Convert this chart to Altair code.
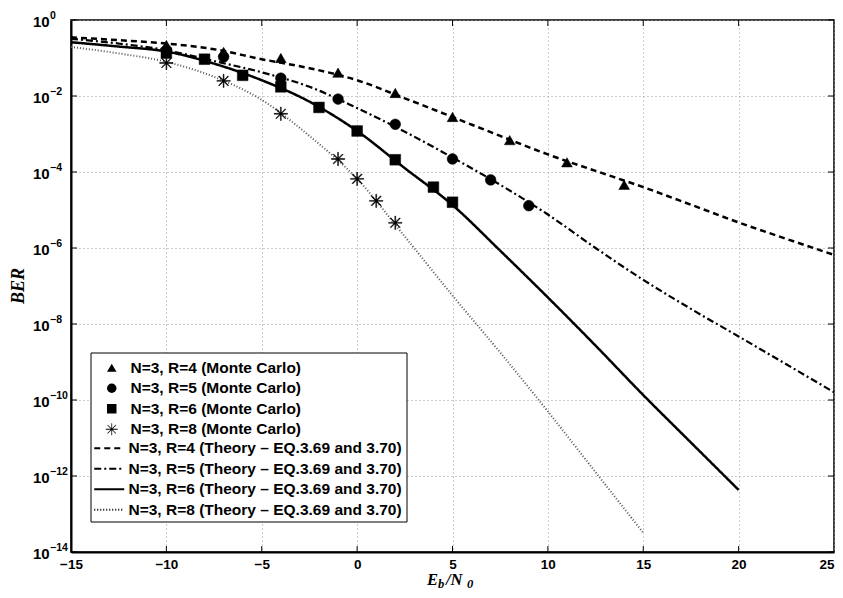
import math
import altair as alt
import pandas as pd

# ---------------- data ----------------
EBN0_TH = [-15, -12.5, -10, -7.5, -5, -2.5, 0, 2.5, 5, 7.5, 10, 12.5, 15, 17.5, 20, 22.5, 25]
BER_TH_R4 = [3.5e-1, 2.95e-1, 2.4e-1, 1.7e-1, 9.3e-2, 5.4e-2, 2.6e-2, 8.7e-3, 2.8e-3, 8.9e-4,
             2.9e-4, 1.07e-4, 4.0e-5, 1.38e-5, 4.7e-6, 1.74e-6, 6.6e-7]
BER_TH_R5 = [3.2e-1, 2.4e-1, 1.6e-1, 8.3e-2, 4.2e-2, 1.75e-2, 4.8e-3, 1.15e-3, 2.4e-4, 4.6e-5,
             7.6e-6, 1.0e-6, 1.45e-7, 2.5e-8, 4.7e-9, 8.7e-10, 1.6e-10]
EBN0_TH_R6 = [-15, -12.5, -10, -7.5, -5, -2.5, 0, 2.5, 5, 7.5, 10, 12.5, 15, 17.5, 20]
BER_TH_R6 = [2.6e-1, 2.0e-1, 1.48e-1, 7.1e-2, 2.6e-2, 7.1e-3, 1.2e-3, 1.26e-4, 1.35e-5, 8.5e-7,
             5.0e-8, 2.7e-9, 1.35e-10, 7.6e-12, 4.3e-13]
EBN0_TH_R8 = [-15, -12.5, -10, -7.5, -5, -2.5, 0, 2.5, 5, 7.5, 10, 12.5, 15]
BER_TH_R8 = [1.95e-1, 1.32e-1, 7.9e-2, 3.2e-2, 7.9e-3, 8.9e-4, 6.6e-5, 2.0e-6, 5.6e-8, 1.78e-9,
             5.0e-11, 1.26e-12, 3.2e-14]

EBN0_MC_R4 = [-10, -7, -4, -1, 2, 5, 8, 11, 14]
BER_MC_R4 = [2.2e-1, 1.45e-1, 1.0e-1, 4.1e-2, 1.2e-2, 2.8e-3, 6.9e-4, 1.8e-4, 4.6e-5]
EBN0_MC_R5 = [-10, -7, -4, -1, 2, 5, 7, 9]
BER_MC_R5 = [1.6e-1, 1.07e-1, 2.95e-2, 8.3e-3, 1.8e-3, 2.2e-4, 6.2e-5, 1.3e-5]
EBN0_MC_R6 = [-10, -8, -6, -4, -2, 0, 2, 4, 5]
BER_MC_R6 = [1.35e-1, 9.3e-2, 3.5e-2, 1.74e-2, 5.0e-3, 1.2e-3, 2.1e-4, 4.0e-5, 1.6e-5]
EBN0_MC_R8 = [-10, -7, -4, -1, 0, 1, 2]
BER_MC_R8 = [7.4e-2, 2.5e-2, 3.4e-3, 2.2e-4, 6.6e-5, 1.74e-5, 4.6e-6]

MC_LABELS = ["N=3, R=4 (Monte Carlo)", "N=3, R=5 (Monte Carlo)",
             "N=3, R=6 (Monte Carlo)", "N=3, R=8 (Monte Carlo)"]
TH_LABELS = ["N=3, R=4 (Theory \u2013 EQ.3.69 and 3.70)", "N=3, R=5 (Theory \u2013 EQ.3.69 and 3.70)",
             "N=3, R=6 (Theory \u2013 EQ.3.69 and 3.70)", "N=3, R=8 (Theory \u2013 EQ.3.69 and 3.70)"]

X_TICKS = [-15, -10, -5, 0, 5, 10, 15, 20, 25]
X_INNER_TICKS = [-10, -5, 0, 5, 10, 15, 20]
Y_TICKS = [1e0, 1e-2, 1e-4, 1e-6, 1e-8, 1e-10, 1e-12, 1e-14]
Y_EXPS = ["0", "\u22122", "\u22124", "\u22126", "\u22128", "\u221210", "\u221212", "\u221214"]

# ---------------- tables ----------------
th_sets = [(EBN0_TH, BER_TH_R4), (EBN0_TH, BER_TH_R5), (EBN0_TH_R6, BER_TH_R6), (EBN0_TH_R8, BER_TH_R8)]
mc_sets = [(EBN0_MC_R4, BER_MC_R4), (EBN0_MC_R5, BER_MC_R5), (EBN0_MC_R6, BER_MC_R6), (EBN0_MC_R8, BER_MC_R8)]

df_th = pd.DataFrame([{"ebn0": x, "ber": b, "series": lab}
                      for lab, (xs, bs) in zip(TH_LABELS, th_sets) for x, b in zip(xs, bs)])
df_mc = pd.DataFrame([{"ebn0": x, "ber": b, "series": lab}
                      for lab, (xs, bs) in zip(MC_LABELS, mc_sets) for x, b in zip(xs, bs)])
df_xt = pd.DataFrame({"ebn0": X_INNER_TICKS})
df_yt = pd.DataFrame({"ber": Y_TICKS, "exp": Y_EXPS})

W, H = 763, 532
SANS = "Liberation Sans"
SERIF = "Liberation Serif"
GRID = "#9a9a9a"


def asterisk_path(r=1.25, w=0.08):
    """Filled 8-armed asterisk symbol (unit size) as an SVG path."""
    parts = []
    for deg in (0, 45, 90, 135):
        t = math.radians(deg)
        dx, dy = math.cos(t) * r, math.sin(t) * r
        nx, ny = -math.sin(t) * w, math.cos(t) * w
        pts = [(dx + nx, dy + ny), (dx - nx, dy - ny), (-dx - nx, -dy - ny), (-dx + nx, -dy + ny)]
        parts.append("M" + "L".join(f"{px:.3f},{py:.3f}" for px, py in pts) + "Z")
    return "".join(parts)


X = alt.X("ebn0:Q", scale=alt.Scale(domain=[-15, 25], nice=False, zero=False),
          axis=alt.Axis(values=X_TICKS, title=None, grid=True, ticks=False,
                        labelFont=SANS, labelFontWeight="bold", labelFontSize=13.5,
                        labelColor="black", labelPadding=5, labelOverlap=False,
                        labelAlign={"condition": {"test": "datum.value == 25", "value": "right"},
                                    "value": "center"},
                        domainColor="black", domainWidth=2,
                        gridColor=GRID, gridDash=[1, 3], gridWidth=1))
Y = alt.Y("ber:Q", scale=alt.Scale(type="log", domain=[1e-14, 1], nice=False),
          axis=alt.Axis(values=Y_TICKS, title=None, grid=True, ticks=False, labels=False,
                        domainColor="black", domainWidth=2,
                        gridColor=GRID, gridDash=[1, 3], gridWidth=1))

dash_scale = alt.Scale(domain=TH_LABELS, range=[[6, 4], [7, 3, 2, 3], [1, 0], [1, 2]])
shape_scale = alt.Scale(domain=MC_LABELS, range=["triangle-up", "circle", "square", asterisk_path()])

leg_common = dict(orient="none", title=None, padding=0, labelFont=SANS, labelFontWeight="bold",
                  labelFontSize=15.5, labelColor="black", labelLimit=500, rowPadding=3.5)
leg_mc = alt.Legend(legendX=22, legendY=340, symbolOffset=11, labelOffset=11,
                    symbolSize=90, symbolFillColor="black", symbolStrokeColor="black",
                    symbolStrokeWidth=0.5, **leg_common)
leg_th = alt.Legend(legendX=22, legendY=420.5, symbolOffset=8.5, labelOffset=11.5,
                    symbolType="M-3,0L3,0", symbolSize=100, symbolStrokeWidth=2,
                    symbolFillColor="transparent", symbolStrokeColor="black", **leg_common)

styles = [("black", 2.5), ("black", 2.2), ("black", 2.5), ("#555555", 2)]
line_layers = []
for lab, (col, sw) in zip(TH_LABELS, styles):
    line_layers.append(
        alt.Chart(df_th).transform_filter(alt.datum.series == lab)
        .mark_line(color=col, strokeWidth=sw, interpolate="monotone", clip=True)
        .encode(x=X, y=Y, order="ebn0:Q",
                strokeDash=alt.StrokeDash("series:N", scale=dash_scale, legend=leg_th))
    )

points = alt.Chart(df_mc).mark_point(filled=True, fill="black", stroke="black", strokeWidth=0.5,
                                     size=115, opacity=1).encode(
    x=X, y=Y, shape=alt.Shape("series:N", scale=shape_scale, legend=leg_mc))

box = alt.Chart(pd.DataFrame({"a": [0]})).mark_rect(fill="white", stroke="black", strokeWidth=1).encode(
    x=alt.value(20), x2=alt.value(336), y=alt.value(333), y2=alt.value(502))

tick_style = dict(color="black", strokeWidth=1)
xt_bot = alt.Chart(df_xt).mark_rule(**tick_style).encode(x=X, y=alt.value(H), y2=alt.value(H - 6))
xt_top = alt.Chart(df_xt).mark_rule(**tick_style).encode(x=X, y=alt.value(0), y2=alt.value(6))
yt_left = alt.Chart(df_yt).mark_rule(**tick_style).encode(y=Y, x=alt.value(0), x2=alt.value(6))
yt_right = alt.Chart(df_yt).mark_rule(**tick_style).encode(y=Y, x=alt.value(W), x2=alt.value(W - 6))

ylab_base = alt.Chart(df_yt).mark_text(font=SANS, fontWeight="bold", fontSize=15, align="left",
                                       baseline="alphabetic", dy=6.5, color="black").encode(
    y=Y, x=alt.value(-38), text=alt.value("10"))
ylab_exp = alt.Chart(df_yt).mark_text(font=SANS, fontWeight="bold", fontSize=10.5, align="left",
                                      baseline="alphabetic", dy=-1.5, color="black").encode(
    y=Y, x=alt.value(-21), text="exp:N")


def label(txt, x, y, size, angle=0, align="left", baseline="alphabetic"):
    return alt.Chart(pd.DataFrame({"t": [txt]})).mark_text(
        font=SERIF, fontStyle="italic", fontWeight="bold", fontSize=size, align=align,
        baseline=baseline, angle=angle, color="black").encode(
        text="t:N", x=alt.value(x), y=alt.value(y))


titles = [
    label("BER", -52, 266, 18, angle=270, align="center", baseline="middle"),
    label("E", 356, 565, 16.5),
    label("b", 367, 568, 12.5),
    label("/N", 375, 565, 16.5),
    label("0", 396, 568, 12.5),
]

chart = alt.layer(
    *line_layers, points, box, xt_bot, xt_top, yt_left, yt_right, ylab_base, ylab_exp, *titles
).resolve_scale(strokeDash="shared", shape="shared").properties(
    width=W, height=H, autosize="none",
    padding={"left": 63, "top": 12, "right": 1, "bottom": 38},
    background="white",
).configure_view(stroke="black", strokeWidth=1.5)

chart.save("out.html", embed_options={"renderer": "svg", "actions": False})
